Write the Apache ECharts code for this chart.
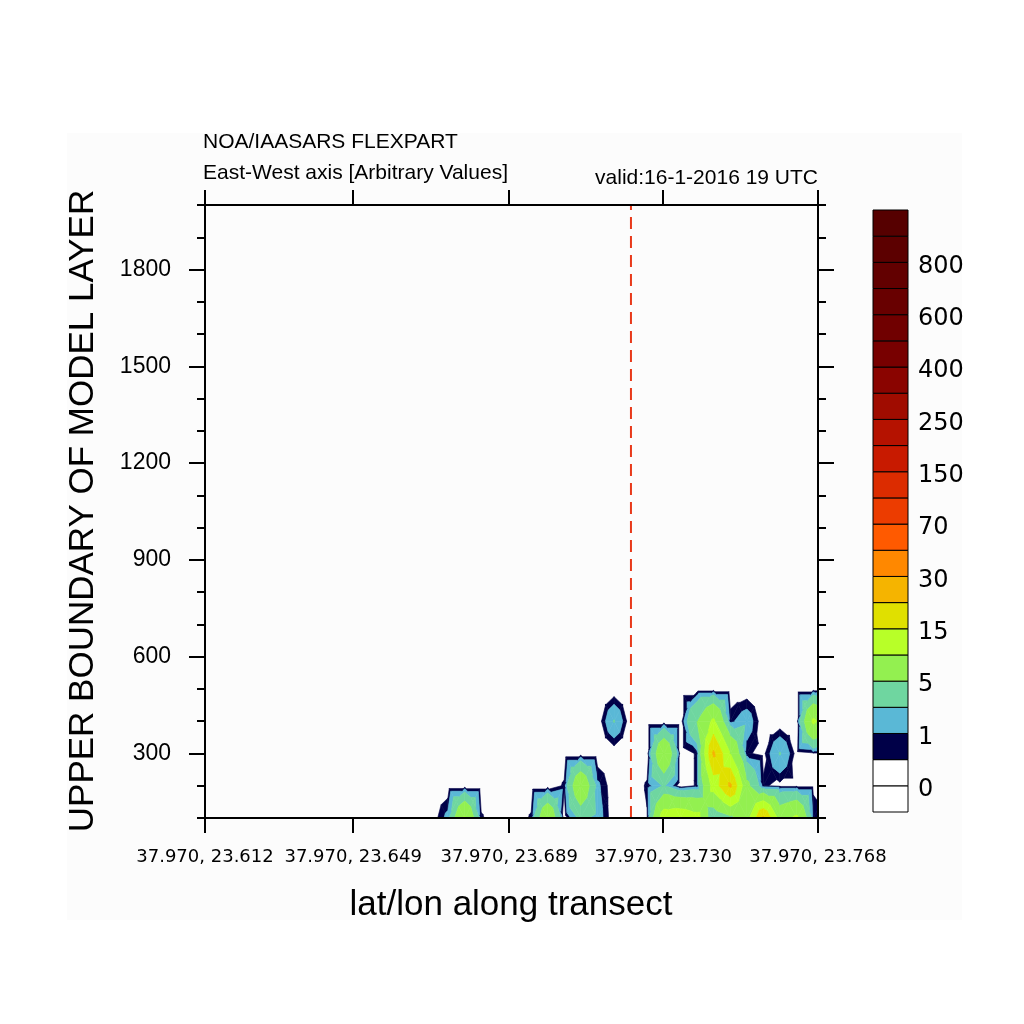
<!DOCTYPE html>
<html><head><meta charset="utf-8">
<script src="https://cdn.jsdelivr.net/npm/echarts@6/dist/echarts.min.js"></script>
<style>html,body{margin:0;padding:0;background:#fff}#c{width:1024px;height:1024px}</style>
</head><body><div id="c"></div>
<script>
// contour levels and fill colours (index 0 = below first level)
const levels = [0,0.5,1,2,5,10,15,20,30,50,70,100,150,200,250,300,400,500,600,700,800,900];
const bandColors = ['#ffffff','#ffffff','#000048','#5ab8d6','#6fd6a0','#93f050','#b8ff28','#e0e000','#f5b400','#ff8800','#ff5a00','#ec3c00','#dc2c00','#c81a00','#b51200','#a00c00','#8a0400','#780000','#700000','#680000','#620000','#5c0000','#560000'];
const colorbarLabels = ['0','1','5','15','30','70','150','250','400','600','800'];

// model grid: layer heights and transect longitudes
const heights = [100,200,300,400,500];
const lonGrid = [23.6696,23.6738,23.6781,23.6823,23.6865,23.6907,23.6950,23.6992,23.7034,23.7076,23.7119,23.7161,23.7203,23.7245,23.7288,23.7330,23.7372,23.7414,23.7457,23.7499,23.7541,23.7583,23.7626,23.7668,23.7710];
// concentration per layer
const conc100 = [0,1.3,10.5,0.6,0,0,0.6,9.3,0,2.5,1.5,0,0,0.45,13,14,12,1.5,4,8,21,8,11,1,0];
const conc200 = [0,0,0,0,0,0,0,0,0.6,9,1.2,0,0,0.6,2.2,0,0.6,12,21,6,0.6,0.3,0.3,0.3,0.3];
const conc300 = [0,0,0,0,0,0,0,0,0,0,0,0,0,0,9.5,0,0.6,21,10,0.6,0.3,2.1,0.2,0.4,0.4];
const conc400 = [0,0,0,0,0,0,0,0,0,0,0,2.1,0,0,0,0,5,11,0.8,1.6,0,0,0,11,6];
const conc500 = [0,0,0,0,0,0,0,0,0,0,0,0,0,0,0,0,0,0,0,0,0,0,0,0,0];

const xTickLons = [23.612,23.6497,23.6894,23.7286,23.768];
const xTickLabels = ['37.970, 23.612','37.970, 23.649','37.970, 23.689','37.970, 23.730','37.970, 23.768'];
const yMajorTicks = [300,600,900,1200,1500,1800];
const transectLon = 23.7204;

const concRows = [conc100,conc200,conc300,conc400,conc500];

function clipPoly(poly, f){
  const out = [];
  for (let k = 0; k < poly.length; k++) {
    const a = poly[k], b = poly[(k + 1) % poly.length];
    const fa = f(a), fb = f(b);
    if (fa >= 0) out.push(a);
    if ((fa >= 0) !== (fb >= 0)) {
      const t = fa / (fa - fb);
      out.push({x: a.x + t * (b.x - a.x), y: a.y + t * (b.y - a.y), v: a.v + t * (b.v - a.v)});
    }
  }
  return out;
}

function renderContour(params, api){
  const i = api.value(2), j = api.value(3);
  const pts = [[i,j],[i+1,j],[i+1,j+1],[i,j+1]].map(function(q){
    const p = api.coord([lonGrid[q[0]], heights[q[1]]]);
    return {x: p[0], y: p[1], v: concRows[q[1]][q[0]]};
  });
  const c = {x:(pts[0].x+pts[1].x+pts[2].x+pts[3].x)/4, y:(pts[0].y+pts[1].y+pts[2].y+pts[3].y)/4, v:(pts[0].v+pts[1].v+pts[2].v+pts[3].v)/4};
  const tris = [[pts[0],pts[1],c],[pts[1],pts[2],c],[pts[2],pts[3],c],[pts[3],pts[0],c]];
  const children = [];
  tris.forEach(function(t){
    const vmax = Math.max(t[0].v,t[1].v,t[2].v), vmin = Math.min(t[0].v,t[1].v,t[2].v);
    for (let b = 2; b < bandColors.length; b++) {
      const lo = levels[b-1], hi = b < levels.length ? levels[b] : Infinity;
      if (vmax < lo || vmin >= hi) continue;
      let poly = clipPoly(t, function(p){ return p.v - lo; });
      if (hi !== Infinity && poly.length) poly = clipPoly(poly, function(p){ return hi - p.v - 1e-9; });
      if (poly.length >= 3) children.push({type:'polygon', silent:true, shape:{points: poly.map(function(p){return [p.x,p.y];})}, style:{fill: bandColors[b], stroke: bandColors[b], lineWidth: 0.6}});
    }
  });
  return {type:'group', children: children};
}

const cellData = [];
for (let j = 0; j < heights.length - 1; j++) for (let i = 0; i < lonGrid.length - 1; i++) cellData.push([lonGrid[i], heights[j], i, j]);
const boxData = bandColors.map(function(c, i){ return [0, i]; });
// colour-bar label anchors: every second box boundary (slightly below the boundary line, as in the picture)
const colorbarLabelPos = [0.85,2.85,4.85,6.85,8.85,10.85,12.85,14.85,16.85,18.85,20.85];

const chart = echarts.init(document.getElementById('c'), null, {renderer:'canvas'});
const black = '#000';
chart.setOption({
  animation: false,
  backgroundColor: '#ffffff',
  graphic: [
    {type:'rect', z:-10, shape:{x:67,y:133,width:895,height:787}, style:{fill:'#fcfcfc'}},
    {type:'text', x:203, y:142, style:{text:'NOA/IAASARS FLEXPART', fill:black, font:'21px "Liberation Sans"', verticalAlign:'middle', align:'left'}},
    {type:'text', x:203, y:173, style:{text:'East-West axis [Arbitrary Values]', fill:black, font:'21px "Liberation Sans"', verticalAlign:'middle', align:'left'}},
    {type:'text', x:818, y:178, style:{text:'valid:16-1-2016 19 UTC', fill:black, font:'21px "Liberation Sans"', verticalAlign:'middle', align:'right'}},
    {type:'text', x:83, y:511, rotation:Math.PI/2, style:{text:'UPPER BOUNDARY OF MODEL LAYER', fill:black, font:'35px "Liberation Sans"', verticalAlign:'middle', align:'center'}},
    {type:'text', x:511, y:905, style:{text:'lat/lon along transect', fill:black, font:'35px "Liberation Sans"', verticalAlign:'middle', align:'center'}}
  ],
  grid: [
    {left:205, top:205, width:613, height:613, show:false},
    {left:873, top:210, width:35, height:602, show:false}
  ],
  xAxis: [
    {type:'value', gridIndex:0, position:'bottom', min:23.612, max:23.768, z:10,
     axisLine:{show:true, onZero:false, lineStyle:{color:black, width:2}},
     axisTick:{show:true, length:15, lineStyle:{color:black, width:2}, customValues: xTickLons},
     axisLabel:{show:true, customValues: xTickLons, margin:30, color:black, fontFamily:'DejaVu Sans', fontSize:18,
       formatter: function(v){ let k = 0, d = 1e9; xTickLons.forEach(function(t, n){ if (Math.abs(t - v) < d) { d = Math.abs(t - v); k = n; } }); return xTickLabels[k]; }},
     splitLine:{show:false}},
    {type:'value', gridIndex:0, position:'top', min:23.612, max:23.768, z:10,
     axisLine:{show:true, onZero:false, lineStyle:{color:black, width:2}},
     axisTick:{show:true, length:15, lineStyle:{color:black, width:2}, customValues: xTickLons},
     axisLabel:{show:false}, splitLine:{show:false}},
    {type:'value', gridIndex:1, min:0, max:1, show:false}
  ],
  yAxis: [
    {type:'value', gridIndex:0, position:'left', min:100, max:2000, z:10,
     axisLine:{show:true, onZero:false, lineStyle:{color:black, width:2}},
     axisTick:{show:true, length:16, lineStyle:{color:black, width:2}, customValues: yMajorTicks},
     axisLabel:{show:true, margin:34, customValues: yMajorTicks, color:black, fontFamily:'Liberation Sans', fontSize:23,
       formatter: function(v){ return String(Math.round(v)); }},
     splitLine:{show:false}},
    {type:'value', gridIndex:0, position:'left', min:100, max:2000, interval:100, z:10,
     axisLine:{show:false}, axisTick:{show:true, length:8, lineStyle:{color:black, width:2}},
     axisLabel:{show:false}, splitLine:{show:false}},
    {type:'value', gridIndex:0, position:'right', min:100, max:2000, z:10,
     axisLine:{show:true, onZero:false, lineStyle:{color:black, width:2}},
     axisTick:{show:true, length:16, lineStyle:{color:black, width:2}, customValues: yMajorTicks},
     axisLabel:{show:false}, splitLine:{show:false}},
    {type:'value', gridIndex:0, position:'right', min:100, max:2000, interval:100, z:10,
     axisLine:{show:false}, axisTick:{show:true, length:8, lineStyle:{color:black, width:2}},
     axisLabel:{show:false}, splitLine:{show:false}},
    {type:'value', gridIndex:1, position:'right', min:0, max:23,
     axisLine:{show:false}, axisTick:{show:false}, splitLine:{show:false},
     axisLabel:{show:true, margin:10, customValues: colorbarLabelPos, color:black, fontFamily:'DejaVu Sans', fontSize:24,
       formatter: function(v){ return colorbarLabels[Math.round((v - 1) / 2)]; }}}
  ],
  series: [
    {type:'custom', xAxisIndex:0, yAxisIndex:0, clip:true, z:2, renderItem: renderContour, data: cellData, encode:{x:0, y:1}, silent:true},
    {type:'line', xAxisIndex:0, yAxisIndex:0, z:5, symbol:'none', silent:true,
     data:[[transectLon, 100],[transectLon, 2000]], lineStyle:{color:'#e8391a', width:2, type:[12,7]}},
    {type:'custom', xAxisIndex:2, yAxisIndex:4, z:2, silent:true, data: boxData,
     renderItem: function(params, api){
       const i = api.value(1);
       const p0 = api.coord([0, i]), p1 = api.coord([1, i + 1]);
       return {type:'rect', shape:{x:p0[0], y:p1[1], width:p1[0]-p0[0], height:p0[1]-p1[1]}, style:{fill: bandColors[i], stroke:black, lineWidth:1}};
     }}
  ]
});
</script></body></html>
